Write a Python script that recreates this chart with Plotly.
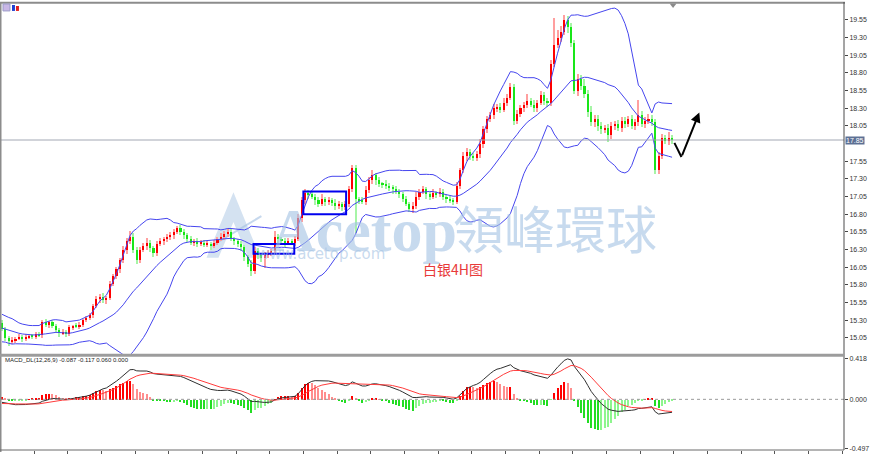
import plotly.graph_objects as go
import pandas as pd

# ---------------- data ----------------
warmup_close = [15.30, 15.34, 15.38, 15.36, 15.32, 15.35, 15.38, 15.33, 15.30, 15.34,
                15.28, 15.24, 15.20, 15.16, 15.12, 15.10, 15.06, 15.10, 15.14, 15.08,
                15.05, 15.10, 15.16, 15.22, 15.26]

close = [15.18, 15.05, 15.00, 15.02, 15.04, 15.06, 15.03, 15.06, 15.08, 15.07,
         15.10, 15.09, 15.27, 15.24, 15.27, 15.22, 15.16, 15.12, 15.14, 15.11,
         15.20, 15.22, 15.21, 15.24, 15.30, 15.33, 15.37, 15.50, 15.60, 15.63,
         15.58, 15.62, 15.82, 15.92, 16.02, 16.15, 16.30, 16.42, 16.48, 16.30,
         16.15, 16.30, 16.35, 16.40, 16.32, 16.25, 16.38, 16.42, 16.45, 16.48,
         16.50, 16.55, 16.60, 16.55, 16.50, 16.45, 16.40, 16.42, 16.38, 16.40,
         16.37, 16.38, 16.35, 16.40, 16.45, 16.48, 16.52, 16.55, 16.45, 16.42,
         16.38, 16.33, 16.20, 16.10, 16.00, 16.28, 16.22, 16.18, 16.22, 16.25,
         16.28, 16.48, 16.45, 16.42, 16.40, 16.42, 16.40, 16.45, 16.75, 17.00,
         17.10, 17.08, 17.05, 17.00, 16.95, 17.02, 16.98, 17.00, 16.96, 16.92,
         16.95, 16.90, 16.95, 17.15, 17.45, 17.02, 17.00, 16.98, 17.14, 17.28,
         17.35, 17.28, 17.23, 17.22, 17.20, 17.18, 17.15, 17.12, 17.08, 17.02,
         16.95, 16.88, 16.92, 17.05, 17.12, 17.15, 17.08, 17.05, 17.10, 17.08,
         17.12, 17.05, 17.02, 17.00, 16.98, 17.20, 17.42, 17.62, 17.68, 17.62,
         17.60, 17.65, 17.80, 18.00, 18.15, 18.20, 18.30, 18.32, 18.28, 18.38,
         18.45, 18.60, 18.12, 18.22, 18.30, 18.35, 18.40, 18.35, 18.30, 18.38,
         18.48, 18.40, 18.38, 18.92, 19.20, 19.30, 19.38, 19.55, 19.45, 19.22,
         18.55, 18.72, 18.62, 18.50, 18.25, 18.10, 18.15, 18.05, 18.00, 18.02,
         17.92, 18.05, 18.08, 18.02, 18.12, 18.08, 18.15, 18.05, 18.10, 18.20,
         18.08, 18.12, 18.15, 18.10, 17.42, 17.62, 17.88, 17.84, 17.88, 17.85]

wick_up = [.04, .03, .03, .05, .02, .04, .03, .04, .03, .02,
           .03, .04, .03, .05, .02, .04, .03, .03, .04, .02,
           .03, .02, .04, .03, .02, .03, .04, .03, .05, .04,
           .06, .03, .04, .03, .04, .03, .05, .04, .08, .05,
           .04, .03, .05, .06, .04, .03, .04, .05, .03, .04,
           .05, .04, .03, .05, .04, .03, .04, .03, .04, .03,
           .03, .04, .03, .04, .03, .05, .04, .05, .04, .03,
           .03, .04, .03, .02, .05, .06, .04, .03, .05, .04,
           .03, .08, .04, .03, .05, .04, .03, .04, .05, .04,
           .06, .04, .05, .03, .04, .06, .03, .04, .03, .05,
           .04, .03, .04, .05, .05, .04, .03, .05, .06, .05,
           .07, .04, .05, .03, .06, .04, .03, .05, .04, .03,
           .04, .03, .05, .06, .04, .05, .03, .04, .06, .03,
           .05, .04, .03, .04, .03, .05, .04, .06, .05, .04,
           .05, .04, .06, .05, .04, .05, .06, .04, .05, .06,
           .05, .05, .04, .06, .05, .04, .10, .05, .06, .04,
           .06, .05, .04, .06, .38, .10, .08, .07, .06, .05,
           .05, .06, .05, .10, .06, .08, .05, .06, .05, .04,
           .05, .06, .04, .05, .06, .05, .04, .06, .05, .22,
           .06, .05, .07, .05, .05, .06, .05, .04, .09, .04]

wick_dn = [.03, .05, .06, .03, .04, .02, .04, .03, .03, .04,
           .03, .02, .04, .03, .05, .03, .04, .05, .03, .04,
           .03, .04, .02, .03, .04, .03, .02, .04, .03, .05,
           .04, .05, .03, .04, .03, .05, .04, .06, .04, .05,
           .06, .04, .03, .05, .06, .05, .04, .03, .05, .04,
           .04, .05, .03, .04, .05, .04, .03, .05, .04, .03,
           .04, .03, .05, .03, .04, .03, .05, .04, .03, .05,
           .04, .05, .06, .05, .08, .04, .06, .05, .14, .04,
           .04, .03, .05, .04, .06, .03, .04, .05, .03, .06,
           .05, .06, .04, .07, .05, .04, .06, .05, .04, .06,
           .05, .06, .04, .05, .03, .48, .05, .04, .05, .04,
           .05, .06, .04, .05, .04, .05, .06, .04, .05, .05,
           .04, .05, .06, .04, .05, .04, .06, .05, .04, .05,
           .04, .05, .06, .04, .05, .04, .05, .04, .06, .05,
           .05, .04, .05, .06, .05, .04, .05, .06, .05, .04,
           .05, .04, .06, .05, .04, .06, .05, .04, .05, .06,
           .04, .05, .06, .05, .04, .05, .06, .05, .08, .06,
           .05, .08, .06, .05, .07, .05, .06, .07, .06, .05,
           .10, .05, .06, .04, .05, .06, .05, .04, .06, .05,
           .05, .06, .04, .05, .05, .05, .04, .05, .06, .05]

price_ticks = [15.05, 15.30, 15.55, 15.80, 16.05, 16.30, 16.55, 16.80, 17.05,
               17.30, 17.55, 18.05, 18.30, 18.55, 18.80, 19.05, 19.30, 19.55]
macd_ticks = [0.418, 0.0, -0.497]
macd_tick_text = ["0.418", "0.000", "-0.497"]
bid_price = 17.85
# blue rectangles (bar index range, price range)
boxes = [(74.7, 86.8, 16.24, 16.38), (89.5, 102.2, 16.80, 17.12)]
# hand-drawn black arrow (bar index, price)
arrow_x = [199.7, 201.8, 207.1]
arrow_y = [17.81, 17.61, 18.24]

# ---------------- indicators ----------------
s = pd.Series(warmup_close + close)
mid = s.rolling(20).mean()
sd = s.rolling(20).std(ddof=0)
upper = mid + 2 * sd
lower = mid - 2 * sd
ema12 = s.ewm(span=12, adjust=False).mean()
ema26 = s.ewm(span=26, adjust=False).mean()
dif = ema12 - ema26
dea = dif.ewm(span=9, adjust=False).mean()
hist = 2 * (dif - dea)

n = len(close)
w = len(warmup_close)
idx = list(range(n))
mid_v = list(mid[w:]); up_v = list(upper[w:]); lo_v = list(lower[w:])
dif_v = list(dif[w:]); dea_v = list(dea[w:]); hist_all = list(hist)
hist_v = hist_all[w:]

opens = [warmup_close[-1]] + close[:-1]
body_base, body_h, wick_base, wick_h, body_col, wick_col = [], [], [], [], [], []
for o, c, wu, wd in zip(opens, close, wick_up, wick_dn):
    top, bot = max(o, c), min(o, c)
    body_base.append(bot)
    body_h.append(max(top - bot, 0.012))
    wick_base.append(bot - wd)
    wick_h.append(top + wu - (bot - wd))
    if c >= o:
        body_col.append("#ff0000"); wick_col.append("#ff9f9f")
    else:
        body_col.append("#19e619"); wick_col.append("#a6f5a6")

hcol = []
for i, h in enumerate(hist_v):
    prev = hist_all[w + i - 1]
    if h >= 0:
        hcol.append("#ff0000" if h >= prev else "#ff8e8e")
    else:
        hcol.append("#22dd22" if h <= prev else "#8ef58e")

# ---------------- geometry helpers (pixels -> paper) ----------------
PW, PH, L, T = 845, 451, 1, 1
def px(x):
    return (x - L) / PW
def py(y):
    return (T + PH - y) / PH

XR = [-0.3, 250.07]
YR = [14.825, 19.788]
MR = [-0.515, 0.432]

fig = go.Figure()
fig.add_trace(go.Bar(x=idx, y=wick_h, base=wick_base, width=0.32,
                     marker=dict(color=wick_col, line=dict(width=0)),
                     xaxis="x", yaxis="y", hoverinfo="skip"))
fig.add_trace(go.Bar(x=idx, y=body_h, base=body_base, width=0.62,
                     marker=dict(color=body_col, line=dict(width=0)),
                     xaxis="x", yaxis="y", hoverinfo="skip"))
for band in (up_v, mid_v, lo_v):
    fig.add_trace(go.Scatter(x=idx, y=band, mode="lines",
                             line=dict(color="#4646ee", width=1),
                             xaxis="x", yaxis="y", hoverinfo="skip"))
# arrow
fig.add_trace(go.Scatter(x=arrow_x[:2], y=arrow_y[:2], mode="lines",
                         line=dict(color="black", width=2), xaxis="x", yaxis="y"))
fig.add_annotation(x=arrow_x[2], y=arrow_y[2], ax=arrow_x[1], ay=arrow_y[1],
                   xref="x", yref="y", axref="x", ayref="y", showarrow=True,
                   arrowhead=2, arrowsize=1, arrowwidth=2, arrowcolor="black", text="")
# chart-shift marker
fig.add_trace(go.Scatter(x=[199.3], y=[19.76], mode="markers",
                         marker=dict(symbol="triangle-down", size=6, color="#8a8a8a"),
                         xaxis="x", yaxis="y"))

# MACD pane
fig.add_trace(go.Bar(x=idx, y=hist_v, width=0.32,
                     marker=dict(color=hcol, line=dict(width=0)),
                     xaxis="x2", yaxis="y2", hoverinfo="skip"))
fig.add_trace(go.Scatter(x=idx, y=dif_v, mode="lines", line=dict(color="#303030", width=1),
                         xaxis="x2", yaxis="y2"))
fig.add_trace(go.Scatter(x=idx, y=dea_v, mode="lines", line=dict(color="#ff3b3b", width=1),
                         xaxis="x2", yaxis="y2"))

shapes = []
# bid line
shapes.append(dict(type="line", xref="paper", yref="y", x0=0, x1=1, y0=bid_price, y1=bid_price,
                   line=dict(color="#a3a8b4", width=1)))
# blue boxes
for x0, x1, y0, y1 in boxes:
    shapes.append(dict(type="rect", xref="x", yref="y", x0=x0, x1=x1, y0=y0, y1=y1,
                       line=dict(color="#0000ee", width=2)))
# macd zero line
shapes.append(dict(type="line", xref="paper", yref="y2", x0=0, x1=1, y0=0, y1=0,
                   line=dict(color="#9a9a9a", width=1, dash="dot")))
# frames
shapes.append(dict(type="line", xref="paper", yref="paper", x0=px(0.5), x1=px(0.5), y0=py(0), y1=py(454),
                   line=dict(color="#8c8c8c", width=2)))
shapes.append(dict(type="line", xref="paper", yref="paper", x0=px(0), x1=px(847), y0=py(0.7), y1=py(0.7),
                   line=dict(color="#8c8c8c", width=2)))
shapes.append(dict(type="line", xref="paper", yref="paper", x0=px(846), x1=px(846), y0=py(0), y1=py(452),
                   line=dict(color="#4a4a4a", width=1)))
shapes.append(dict(type="rect", xref="paper", yref="paper", x0=px(0), x1=px(846), y0=py(355), y1=py(358),
                   fillcolor="#9c9c9c", line=dict(width=0)))
shapes.append(dict(type="line", xref="paper", yref="paper", x0=px(0), x1=px(846), y0=py(452), y1=py(452),
                   line=dict(color="#6a6a6a", width=1)))
# watermark logo (stylised A)
logo = (f"M {px(234)},{py(192)} L {px(207)},{py(258)} L {px(219)},{py(258)} L {px(234)},{py(222)} "
        f"L {px(249)},{py(258)} L {px(261)},{py(258)} Z")
shapes.append(dict(type="path", xref="paper", yref="paper", path=logo,
                   fillcolor="rgba(160,190,225,0.45)", line=dict(width=0), layer="below"))
shapes.append(dict(type="line", xref="paper", yref="paper", x0=px(212), y0=py(246), x1=px(262), y1=py(216),
                   line=dict(color="rgba(160,190,225,0.6)", width=2), layer="below"))
# small icons at top-left
shapes.append(dict(type="rect", xref="paper", yref="paper", x0=px(3), x1=px(10), y0=py(9), y1=py(2),
                   fillcolor="#c9b7e6", line=dict(color="#9a9ac8", width=1)))
shapes.append(dict(type="rect", xref="paper", yref="paper", x0=px(12), x1=px(15), y0=py(9), y1=py(3),
                   fillcolor="#2040d0", line=dict(width=0)))
shapes.append(dict(type="rect", xref="paper", yref="paper", x0=px(16), x1=px(19), y0=py(9), y1=py(4),
                   fillcolor="#e02020", line=dict(width=0)))

wm = "rgba(165,195,228,0.62)"
ann = [
    dict(x=px(22), y=py(5.5), xref="paper", yref="paper", text="XAGUSD,H4", showarrow=False,
         xanchor="left", yanchor="middle", font=dict(size=7, color="#222", family="Liberation Sans")),
    dict(x=px(3), y=py(361), xref="paper", yref="paper",
         text="MACD_DL(12,26,9) -0.087 -0.117 0.060 0.000", showarrow=False,
         xanchor="left", yanchor="middle", font=dict(size=6, color="#222", family="Liberation Sans")),
    dict(x=px(270), y=py(230), xref="paper", yref="paper", text="<b>Acetop</b>", showarrow=False,
         xanchor="left", yanchor="middle", font=dict(size=62, color=wm, family="Liberation Serif")),
    dict(x=px(452), y=py(227), xref="paper", yref="paper", text="領峰環球", showarrow=False,
         xanchor="left", yanchor="middle", font=dict(size=51, color=wm, family="Noto Sans CJK TC")),
    dict(x=px(322), y=py(254), xref="paper", yref="paper", text="www.acetop.com", showarrow=False,
         xanchor="center", yanchor="middle", font=dict(size=15, color=wm, family="DejaVu Sans")),
    dict(x=px(454), y=py(269), xref="paper", yref="paper", text="白银4H图", showarrow=False,
         xanchor="center", yanchor="middle", font=dict(size=14, color="#e83a3a", family="Noto Sans CJK SC")),
    dict(x=1, y=bid_price, xref="paper", yref="y", text="17.85", showarrow=False,
         xanchor="left", yanchor="middle", xshift=1, bgcolor="#5d7094",
         font=dict(size=7, color="white", family="Liberation Sans"), borderpad=0),
]

fig.update_layout(
    width=870, height=454,
    margin=dict(l=L, r=870 - L - PW, t=T, b=454 - T - PH),
    paper_bgcolor="white", plot_bgcolor="white",
    showlegend=False, barmode="overlay", bargap=0,
    shapes=shapes, annotations=ann,
    xaxis=dict(domain=[0, 1], range=XR, showgrid=False, zeroline=False, showticklabels=False,
               ticks="", anchor="y", fixedrange=True),
    yaxis=dict(domain=[py(355), 1], range=YR, side="right", showgrid=False, zeroline=False,
               tickvals=price_ticks, ticktext=[f"{v:.2f}" for v in price_ticks],
               ticks="outside", ticklen=3, tickcolor="#444",
               tickfont=dict(size=7, color="#333", family="Liberation Sans"), anchor="x"),
    xaxis2=dict(domain=[0, 1], range=XR, showgrid=False, zeroline=False, showticklabels=False,
                tickvals=[9.5 + 10 * k for k in range(25)], ticks="outside", ticklen=3,
                tickcolor="#555", anchor="y2"),
    yaxis2=dict(domain=[0, py(358)], range=MR, side="right", showgrid=False, zeroline=False,
                tickvals=macd_ticks, ticktext=macd_tick_text, ticks="outside", ticklen=3,
                tickcolor="#444", tickfont=dict(size=7, color="#333", family="Liberation Sans"),
                anchor="x2"),
)

fig.write_html("out.html")
